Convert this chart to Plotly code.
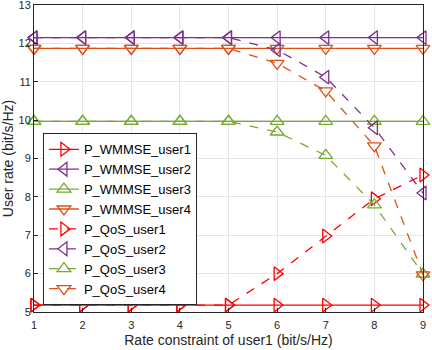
import plotly.graph_objects as go

x_vals = [1, 2, 3, 4, 5, 6, 7, 8, 9]
wmmse_user1 = [5.18] * 9
wmmse_user2 = [12.15] * 9
wmmse_user3 = [9.97] * 9
wmmse_user4 = [11.87] * 9
qos_user1 = [5.18, 5.18, 5.18, 5.18, 5.18, 6.0, 6.98, 7.95, 8.57]
qos_user2 = [12.15, 12.15, 12.15, 12.15, 12.15, 11.83, 11.12, 9.8, 8.1]
qos_user3 = [9.97, 9.97, 9.97, 9.97, 9.97, 9.69, 9.08, 7.79, 5.99]
qos_user4 = [11.87, 11.87, 11.87, 11.87, 11.87, 11.48, 10.76, 9.33, 5.97]

names = ["P_WMMSE_user1", "P_WMMSE_user2", "P_WMMSE_user3", "P_WMMSE_user4",
         "P_QoS_user1", "P_QoS_user2", "P_QoS_user3", "P_QoS_user4"]
series = [wmmse_user1, wmmse_user2, wmmse_user3, wmmse_user4,
          qos_user1, qos_user2, qos_user3, qos_user4]
colors = ["#FF0000", "#7E2F8E", "#77AC30", "#D95319"]
symbols = ["triangle-right-open", "triangle-left-open", "triangle-up-open", "triangle-down-open"]

fig = go.Figure()
for i, (name, ys) in enumerate(zip(names, series)):
    k = i % 4
    dash = "solid" if i < 4 else "dash"
    fig.add_trace(go.Scatter(
        x=x_vals, y=ys, name=name, mode="lines+markers",
        line=dict(color=colors[k], width=1.3, dash=dash),
        marker=dict(symbol=symbols[k], size=12, color=colors[k],
                    line=dict(color=colors[k], width=1.3)),
        cliponaxis=False,
    ))

axis_common = dict(
    showgrid=True, gridcolor="#E6E6E6", gridwidth=1,
    showline=True, linecolor="#262626", linewidth=1, mirror=True,
    ticks="inside", ticklen=4, tickcolor="#262626",
    tickfont=dict(family="Liberation Sans, Arial", size=11, color="#262626"),
    ticklabeloverflow="allow",
    zeroline=False,
    automargin=False,
)

fig.update_layout(
    width=432, height=350,
    margin=dict(l=34, r=9, t=5, b=38),
    paper_bgcolor="white", plot_bgcolor="white",
    font=dict(family="Liberation Sans, Arial", color="#262626"),
    xaxis=dict(range=[1, 9], dtick=1, ticklabelstandoff=3,
               title=dict(text="Rate constraint of user1 (bit/s/Hz)", font=dict(size=14), standoff=4),
               **axis_common),
    yaxis=dict(range=[5, 13], dtick=1,
               title=dict(text="User rate (bit/s/Hz)", font=dict(size=14), standoff=2),
               **axis_common),
    legend=dict(x=0.023, y=0.582, xanchor="left", yanchor="top",
                bgcolor="white", bordercolor="#262626", borderwidth=1,
                font=dict(size=13, color="black"), tracegroupgap=0,
                itemwidth=30),
    showlegend=True,
)

fig.write_html("out.html", config={"displayModeBar": False},
               post_script="document.body.style.margin='0';document.body.style.padding='0';")
